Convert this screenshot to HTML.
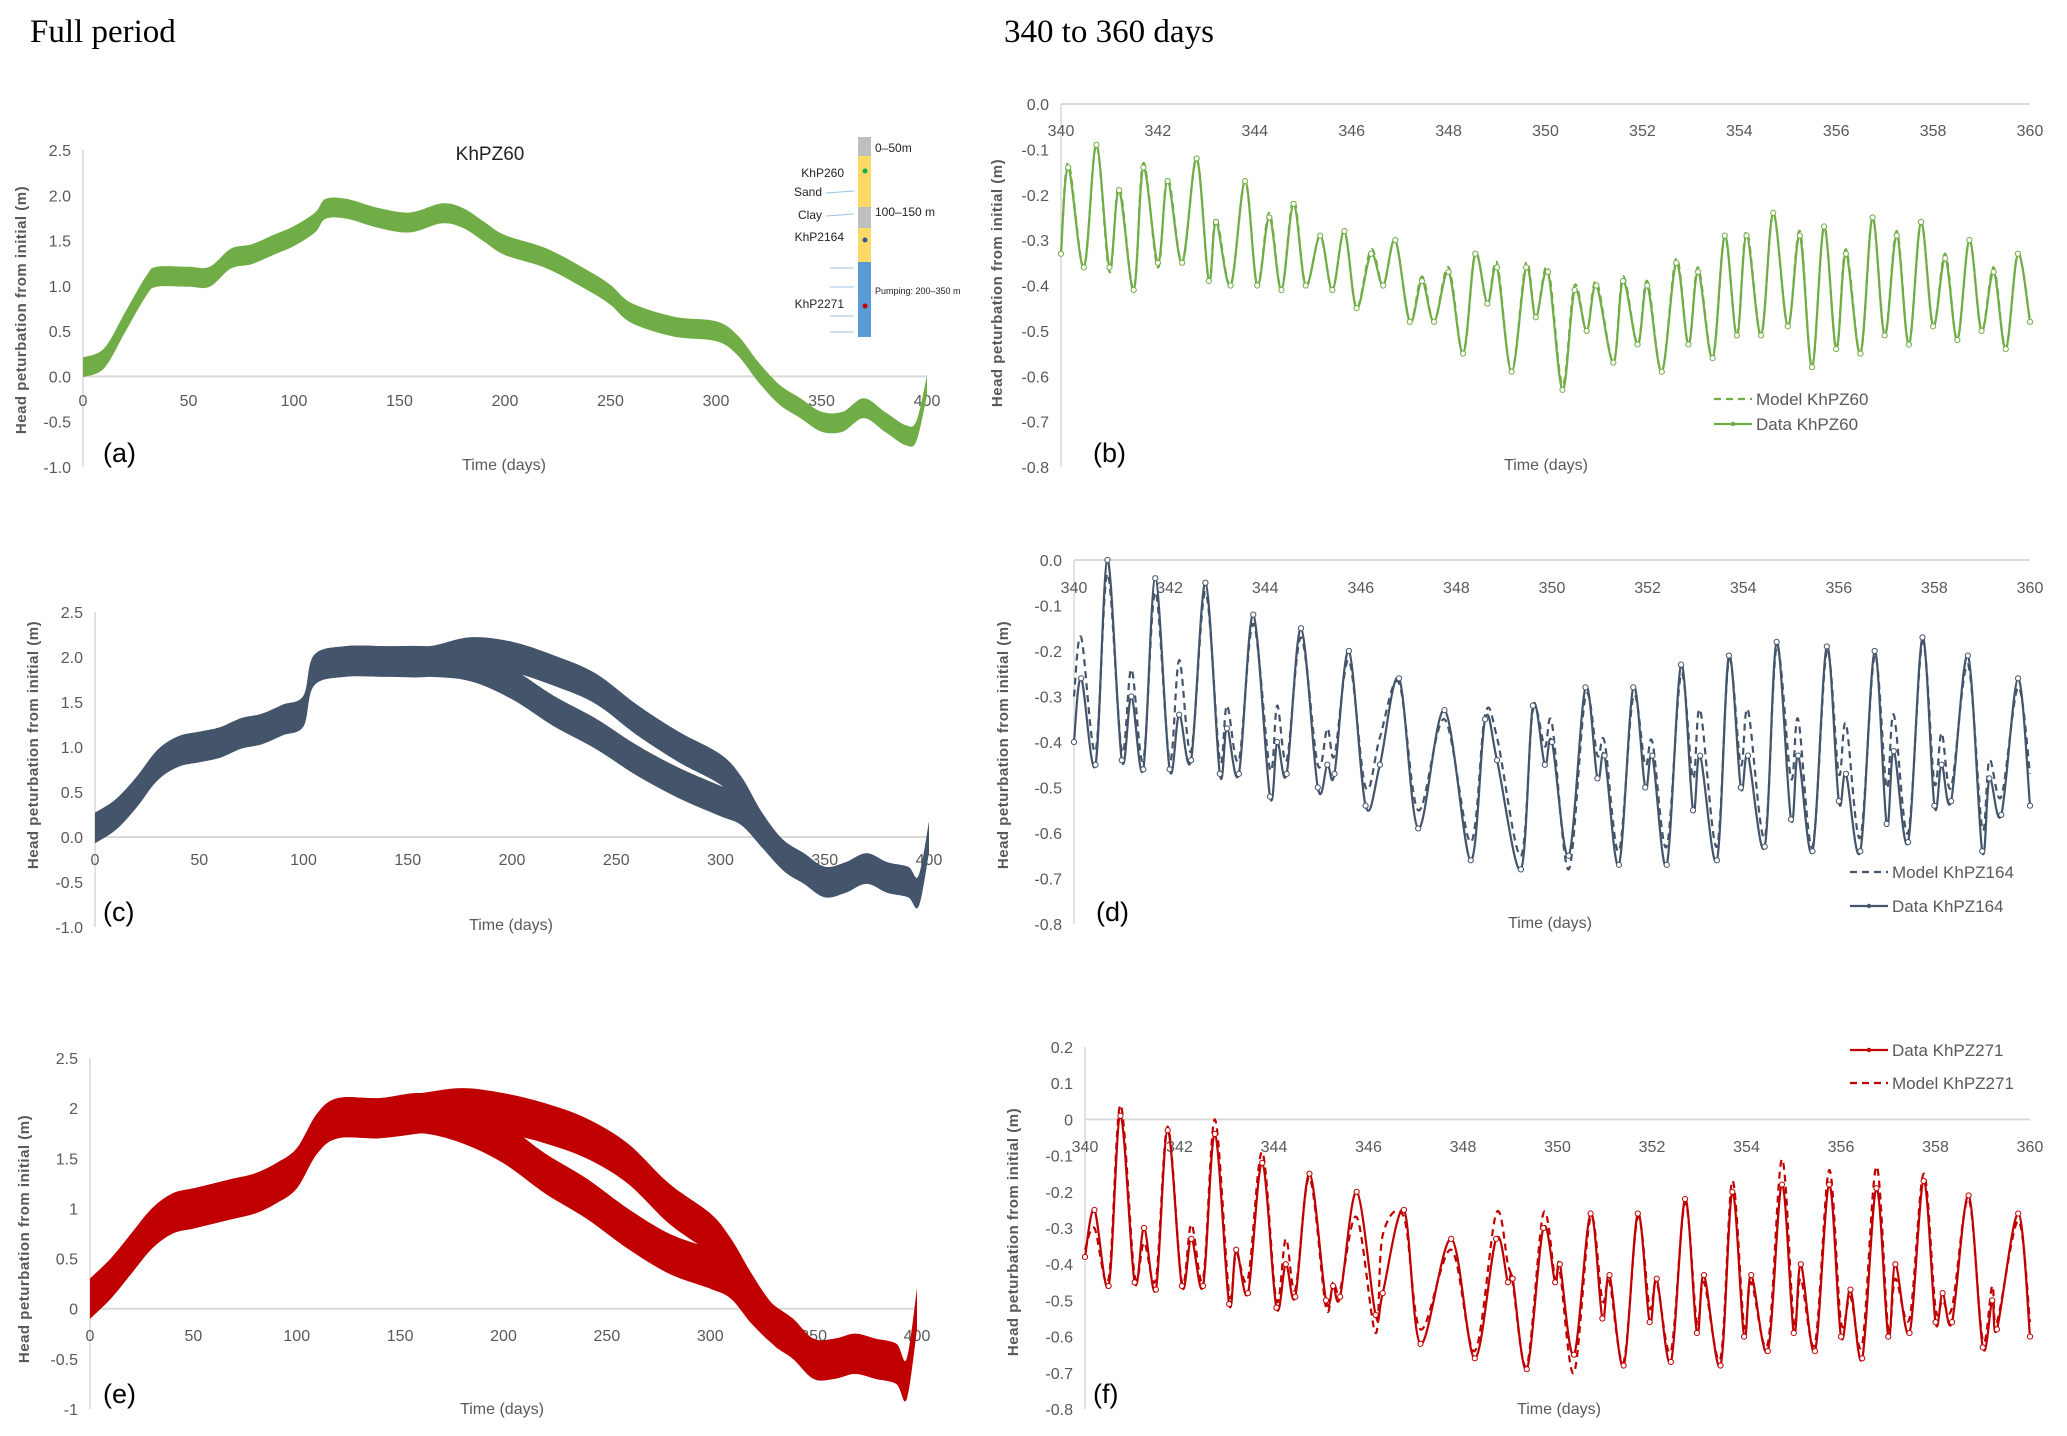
<!DOCTYPE html>
<html><head><meta charset="utf-8"><style>
html,body{margin:0;padding:0;background:#fff;}
svg{display:block;font-family:"Liberation Sans",sans-serif;}
.tk{fill:#595959;font-size:16px;}
.yt{fill:#595959;font-size:15px;font-weight:bold;letter-spacing:0.5px;}
.pl{fill:#000;font-size:27px;}
.xt{fill:#595959;font-size:16px;}
.lg{fill:#595959;font-size:17px;}
.hd{font-family:"Liberation Serif",serif;font-size:33px;fill:#000;}
</style></head><body>
<svg id="fig" width="2067" height="1436" viewBox="0 0 2067 1436">
<text class="hd" x="30" y="42">Full period</text>
<text class="hd" x="1004" y="42">340 to 360 days</text>
<g id="inset">
<rect x="858" y="137" width="13" height="19" fill="#bfbfbf"/>
<rect x="858" y="156" width="13" height="51" fill="#ffd966"/>
<rect x="858" y="207" width="13" height="21" fill="#bfbfbf"/>
<rect x="858" y="228" width="13" height="34" fill="#ffd966"/>
<rect x="858" y="262" width="13" height="75" fill="#5b9bd5"/>
<circle cx="865" cy="171" r="2.5" fill="#00b050"/>
<circle cx="865" cy="240" r="2.5" fill="#2f5597"/>
<circle cx="865" cy="306" r="2.5" fill="#c00000"/>
<g font-size="12" fill="#222">
<text x="875" y="152">0–50m</text>
<text x="844" y="177" text-anchor="end">KhP260</text>
<text x="822" y="196" text-anchor="end">Sand</text>
<text x="822" y="219" text-anchor="end">Clay</text>
<text x="844" y="241" text-anchor="end">KhP2164</text>
<text x="875" y="216">100–150 m</text>
<text x="875" y="294" font-size="9">Pumping: 200–350 m</text>
<text x="844" y="308" text-anchor="end">KhP2271</text>
</g>
<g stroke="#9dc3e6" stroke-width="1">
<line x1="826" y1="193" x2="854" y2="191"/><line x1="826" y1="216" x2="854" y2="214"/>
<line x1="830" y1="268" x2="854" y2="268"/><line x1="830" y1="287" x2="854" y2="287"/>
<line x1="830" y1="316" x2="854" y2="316"/><line x1="830" y1="332" x2="854" y2="332"/>
</g>
</g>
<text x="490" y="160" text-anchor="middle" font-size="19" fill="#222">KhPZ60</text>
</svg>
<script>
// ---- Full period data (band centre per sample day) ----
const fa_days=[0,10,20,30,35,50,60,70,80,90,100,110,115,125,140,155,170,180,190,200,220,240,250,260,280,300,310,320,330,340,350,360,370,380,390,395,400];
const fa_center=[0.1,0.2,0.6,1.0,1.1,1.1,1.1,1.3,1.35,1.45,1.55,1.7,1.85,1.85,1.75,1.7,1.8,1.75,1.6,1.45,1.3,1.05,0.9,0.7,0.55,0.5,0.35,0.05,-0.2,-0.35,-0.5,-0.5,-0.35,-0.5,-0.65,-0.6,-0.1];
const fa_spread=0.11;
const fc_days=[0,10,20,30,40,50,60,70,80,90,100,105,120,140,160,180,200,220,240,260,280,300,310,320,330,340,350,360,370,380,390,395,400];
const fc_upper=[0.1,0.25,0.5,0.8,0.95,1.0,1.05,1.15,1.2,1.3,1.4,1.85,1.95,1.95,1.95,2.05,2.0,1.85,1.65,1.3,1.0,0.75,0.5,0.1,-0.2,-0.35,-0.5,-0.45,-0.35,-0.45,-0.5,-0.6,0];
const fc_lower=[0.1,0.25,0.5,0.8,0.95,1.0,1.05,1.15,1.2,1.3,1.4,1.85,1.95,1.95,1.95,1.9,1.7,1.4,1.15,0.85,0.6,0.4,0.3,0.05,-0.2,-0.35,-0.5,-0.45,-0.35,-0.45,-0.5,-0.6,0];
const fc_spread=0.17;
const fe_days=[0,10,20,30,40,50,60,70,80,90,100,110,120,140,160,180,200,220,240,260,280,300,310,320,330,340,350,360,370,380,390,395,400];
const fe_upper=[0.1,0.3,0.55,0.8,0.95,1.0,1.05,1.1,1.15,1.25,1.4,1.75,1.9,1.9,1.95,2.0,1.95,1.85,1.7,1.45,1.05,0.75,0.5,0.15,-0.15,-0.3,-0.5,-0.5,-0.45,-0.5,-0.55,-0.7,0];
const fe_lower=[0.1,0.3,0.55,0.8,0.95,1.0,1.05,1.1,1.15,1.25,1.4,1.75,1.9,1.9,1.95,1.85,1.65,1.35,1.1,0.8,0.55,0.4,0.3,0.05,-0.15,-0.3,-0.5,-0.5,-0.45,-0.5,-0.55,-0.7,0];
const fe_spread=0.2;
// ---- 340-360 day data ----
const b_t=[340,340.15,340.47,340.73,341.0,341.2,341.5,341.7,342.0,342.2,342.5,342.8,343.05,343.2,343.5,343.8,344.05,344.3,344.55,344.8,345.05,345.35,345.6,345.85,346.1,346.4,346.65,346.9,347.2,347.45,347.7,348.0,348.3,348.55,348.8,349.0,349.3,349.6,349.8,350.05,350.35,350.6,350.85,351.05,351.4,351.6,351.9,352.1,352.4,352.7,352.95,353.15,353.45,353.7,353.95,354.15,354.45,354.7,355.0,355.25,355.5,355.75,356.0,356.2,356.5,356.75,357.0,357.25,357.5,357.75,358.0,358.25,358.5,358.75,359.0,359.25,359.5,359.75,360];
const b_data=[-0.33,-0.14,-0.36,-0.09,-0.36,-0.19,-0.41,-0.14,-0.35,-0.17,-0.35,-0.12,-0.39,-0.26,-0.40,-0.17,-0.40,-0.25,-0.41,-0.22,-0.40,-0.29,-0.41,-0.28,-0.45,-0.33,-0.40,-0.30,-0.48,-0.39,-0.48,-0.37,-0.55,-0.33,-0.44,-0.36,-0.59,-0.36,-0.47,-0.37,-0.63,-0.41,-0.50,-0.40,-0.57,-0.39,-0.53,-0.40,-0.59,-0.35,-0.53,-0.37,-0.56,-0.29,-0.51,-0.29,-0.51,-0.24,-0.49,-0.29,-0.58,-0.27,-0.54,-0.33,-0.55,-0.25,-0.51,-0.29,-0.53,-0.26,-0.49,-0.34,-0.52,-0.30,-0.50,-0.37,-0.54,-0.33,-0.48];
const b_model=[-0.33,-0.13,-0.36,-0.09,-0.37,-0.18,-0.41,-0.13,-0.36,-0.16,-0.35,-0.12,-0.39,-0.25,-0.40,-0.17,-0.40,-0.24,-0.41,-0.21,-0.40,-0.29,-0.41,-0.28,-0.45,-0.32,-0.40,-0.30,-0.48,-0.38,-0.48,-0.36,-0.55,-0.33,-0.44,-0.35,-0.59,-0.35,-0.47,-0.36,-0.62,-0.40,-0.50,-0.39,-0.57,-0.38,-0.53,-0.39,-0.59,-0.34,-0.53,-0.36,-0.56,-0.29,-0.51,-0.28,-0.51,-0.24,-0.49,-0.28,-0.58,-0.27,-0.54,-0.32,-0.55,-0.25,-0.51,-0.28,-0.53,-0.26,-0.49,-0.33,-0.52,-0.30,-0.50,-0.36,-0.54,-0.33,-0.48];
const d_t=[340,340.15,340.45,340.7,341.0,341.2,341.45,341.7,342.0,342.2,342.45,342.75,343.05,343.2,343.45,343.75,344.1,344.25,344.45,344.75,345.1,345.3,345.45,345.75,346.1,346.4,346.8,347.2,347.75,348.3,348.6,348.85,349.35,349.6,349.85,350.0,350.35,350.7,350.95,351.1,351.4,351.7,351.95,352.1,352.4,352.7,352.95,353.1,353.45,353.7,353.95,354.1,354.45,354.7,355.0,355.15,355.45,355.75,356.0,356.15,356.45,356.75,357.0,357.15,357.45,357.75,358.0,358.15,358.35,358.7,359.0,359.15,359.4,359.75,360];
const d_data=[-0.40,-0.26,-0.45,0.0,-0.44,-0.30,-0.46,-0.04,-0.46,-0.34,-0.44,-0.05,-0.47,-0.37,-0.47,-0.12,-0.52,-0.40,-0.47,-0.15,-0.50,-0.45,-0.47,-0.20,-0.54,-0.45,-0.26,-0.59,-0.33,-0.66,-0.35,-0.44,-0.68,-0.32,-0.45,-0.40,-0.65,-0.28,-0.48,-0.43,-0.67,-0.28,-0.50,-0.43,-0.67,-0.23,-0.55,-0.43,-0.66,-0.21,-0.50,-0.43,-0.63,-0.18,-0.57,-0.43,-0.64,-0.19,-0.53,-0.47,-0.64,-0.20,-0.58,-0.42,-0.62,-0.17,-0.54,-0.45,-0.53,-0.21,-0.64,-0.48,-0.56,-0.26,-0.54];
const d_model=[-0.30,-0.17,-0.42,-0.03,-0.42,-0.24,-0.44,-0.07,-0.44,-0.22,-0.42,-0.07,-0.44,-0.32,-0.44,-0.14,-0.46,-0.32,-0.44,-0.17,-0.45,-0.37,-0.43,-0.22,-0.50,-0.39,-0.27,-0.55,-0.35,-0.62,-0.34,-0.39,-0.65,-0.33,-0.41,-0.36,-0.68,-0.30,-0.43,-0.40,-0.64,-0.30,-0.45,-0.40,-0.63,-0.25,-0.48,-0.33,-0.63,-0.22,-0.45,-0.33,-0.61,-0.19,-0.48,-0.35,-0.63,-0.20,-0.47,-0.36,-0.61,-0.21,-0.50,-0.34,-0.60,-0.18,-0.49,-0.38,-0.50,-0.23,-0.59,-0.44,-0.52,-0.28,-0.47];
const f_t=[340,340.2,340.5,340.75,341.05,341.25,341.5,341.75,342.05,342.25,342.5,342.75,343.05,343.2,343.45,343.75,344.05,344.25,344.45,344.75,345.1,345.25,345.4,345.75,346.15,346.3,346.75,347.1,347.75,348.25,348.7,348.95,349.05,349.35,349.7,349.95,350.05,350.35,350.7,350.95,351.1,351.4,351.7,351.95,352.1,352.4,352.7,352.95,353.1,353.45,353.7,353.95,354.1,354.45,354.75,355.0,355.15,355.45,355.75,356.0,356.2,356.45,356.75,357.0,357.15,357.45,357.75,358.0,358.15,358.35,358.7,359.0,359.2,359.3,359.75,360];
const f_data=[-0.38,-0.25,-0.46,0.01,-0.45,-0.30,-0.47,-0.03,-0.46,-0.33,-0.46,-0.04,-0.51,-0.36,-0.48,-0.12,-0.52,-0.40,-0.49,-0.15,-0.50,-0.46,-0.49,-0.20,-0.54,-0.48,-0.25,-0.62,-0.33,-0.66,-0.33,-0.45,-0.44,-0.69,-0.30,-0.45,-0.40,-0.65,-0.26,-0.55,-0.43,-0.68,-0.26,-0.56,-0.44,-0.67,-0.22,-0.59,-0.43,-0.68,-0.20,-0.60,-0.43,-0.64,-0.18,-0.59,-0.40,-0.64,-0.18,-0.60,-0.47,-0.66,-0.19,-0.60,-0.40,-0.59,-0.17,-0.56,-0.48,-0.56,-0.21,-0.63,-0.50,-0.58,-0.26,-0.60];
const f_model=[-0.36,-0.30,-0.44,0.04,-0.43,-0.34,-0.44,-0.02,-0.45,-0.29,-0.44,0.0,-0.48,-0.37,-0.44,-0.09,-0.50,-0.33,-0.47,-0.16,-0.52,-0.45,-0.47,-0.27,-0.59,-0.32,-0.27,-0.58,-0.36,-0.64,-0.26,-0.40,-0.45,-0.68,-0.26,-0.44,-0.42,-0.70,-0.27,-0.50,-0.45,-0.67,-0.27,-0.52,-0.45,-0.64,-0.23,-0.56,-0.45,-0.66,-0.17,-0.57,-0.45,-0.62,-0.11,-0.56,-0.44,-0.62,-0.14,-0.56,-0.49,-0.62,-0.13,-0.58,-0.44,-0.55,-0.15,-0.52,-0.50,-0.52,-0.22,-0.61,-0.46,-0.56,-0.28,-0.56];
// tick labels
const yTicksFull=["2.5","2.0","1.5","1.0","0.5","0.0","-0.5","-1.0"];
const yTicksE=["2.5","2","1.5","1","0.5","0","-0.5","-1"];
const xTicksFull=["0","50","100","150","200","250","300","350","400"];
const yTicksZoom=["0.0","-0.1","-0.2","-0.3","-0.4","-0.5","-0.6","-0.7","-0.8"];
const yTicksF=["0.2","0.1","0","-0.1","-0.2","-0.3","-0.4","-0.5","-0.6","-0.7","-0.8"];
const xTicksZoom=["340","342","344","346","348","350","352","354","356","358","360"];

const NS="http://www.w3.org/2000/svg";
const svg=document.getElementById('fig');
function mk(tag,parent){const e=document.createElementNS(NS,tag);parent.appendChild(e);return e;}
function lin(d0,d1,r0,r1){return v=>r0+(v-d0)*(r1-r0)/(d1-d0);}
function smooth(pts){let d='M'+pts[0][0].toFixed(1)+','+pts[0][1].toFixed(1);
 for(let i=0;i<pts.length-1;i++){const p0=pts[Math.max(0,i-1)],p1=pts[i],p2=pts[i+1],p3=pts[Math.min(pts.length-1,i+2)];
  const c1x=p1[0]+(p2[0]-p0[0])/6,c1y=p1[1]+(p2[1]-p0[1])/6,c2x=p2[0]-(p3[0]-p1[0])/6,c2y=p2[1]-(p3[1]-p1[1])/6;
  d+=' C'+c1x.toFixed(1)+','+c1y.toFixed(1)+' '+c2x.toFixed(1)+','+c2y.toFixed(1)+' '+p2[0].toFixed(1)+','+p2[1].toFixed(1);}
 return d;}
function txt(parent,cls,x,y,s,anchor){const t=mk('text',parent);t.setAttribute('class',cls);t.setAttribute('x',x);t.setAttribute('y',y);if(anchor)t.setAttribute('text-anchor',anchor);t.textContent=s;return t;}

function axesFrame(g,c,yTicks,xTicks,yVals,xVals,zeroY,xLabY,name){
 const ax=mk('line',g);ax.setAttribute('x1',c.x0);ax.setAttribute('x2',c.x0);ax.setAttribute('y1',c.yTop);ax.setAttribute('y2',c.yBot);ax.setAttribute('stroke','#d9d9d9');ax.setAttribute('stroke-width','1.5');
 
 
 const zl=mk('line',g);zl.setAttribute('x1',c.x0);zl.setAttribute('x2',c.x1);zl.setAttribute('y1',c.Y(zeroY));zl.setAttribute('y2',c.Y(zeroY));zl.setAttribute('stroke','#d9d9d9');zl.setAttribute('stroke-width','2');
 
 
 yTicks.forEach((s,i)=>{const t=txt(g,'tk',c.x0-12,c.Y(yVals[i])+6,s,'end');
  
  });
 xTicks.forEach((s,i)=>{const t=txt(g,'tk',c.X(xVals[i]),xLabY,s,'middle');
  
  });
}
function yTitle(g,x,y,name){const t=txt(g,'yt',0,0,'Head peturbation from initial (m)','middle');t.setAttribute('transform','translate('+x+','+y+') rotate(-90)');
 
 }
function extra(g,lab,lx,ly,tx,ty,name){const a=txt(g,'pl',lx,ly,lab);
 
 
 const b=txt(g,'xt',tx,ty,'Time (days)','middle');
 
 }
function band(g,c,days,centre,spread,color,name){
 const top=days.map((d,i)=>[c.X(d),c.Y(centre[i]+spread)]);
 const bot=days.map((d,i)=>[c.X(d),c.Y(centre[i]-spread)]).reverse();
 const p=mk('path',g);p.setAttribute('d',smooth(top)+' L'+smooth(bot).slice(1)+' Z');p.setAttribute('fill',color);
 
 }
function wave(g,c,t,v,color,dash,markers,name){
 const pts=t.map((d,i)=>[c.X(d),c.Y(v[i])]);
 const p=mk('path',g);p.setAttribute('d',smooth(pts));p.setAttribute('fill','none');p.setAttribute('stroke',color);p.setAttribute('stroke-width','2.2');
 if(dash)p.setAttribute('stroke-dasharray','7,5');
 
 
 if(markers){pts.forEach(q=>{const m=mk('circle',g);m.setAttribute('cx',q[0]);m.setAttribute('cy',q[1]);m.setAttribute('r','2.6');m.setAttribute('fill','#fff');m.setAttribute('stroke',color);m.setAttribute('stroke-width','1');
  
  });}}
function legend(g,x,y,label,color,dash,name){
 const l=mk('line',g);l.setAttribute('x1',x);l.setAttribute('x2',x+38);l.setAttribute('y1',y);l.setAttribute('y2',y);l.setAttribute('stroke',color);l.setAttribute('stroke-width','2.2');
 if(dash)l.setAttribute('stroke-dasharray','7,5');
 
 
 if(!dash){const m=mk('circle',g);m.setAttribute('cx',x+19);m.setAttribute('cy',y);m.setAttribute('r','2.2');m.setAttribute('fill',color);}
 const t=txt(g,'lg',x+42,y+6,label);
 
 }

const fullX=[0,50,100,150,200,250,300,350,400];
const fullY=[2.5,2,1.5,1,0.5,0,-0.5,-1];
const zX=[340,342,344,346,348,350,352,354,356,358,360];
const zY=[0,-0.1,-0.2,-0.3,-0.4,-0.5,-0.6,-0.7,-0.8];
const fY=[0.2,0.1,0,-0.1,-0.2,-0.3,-0.4,-0.5,-0.6,-0.7,-0.8];

function panel(name){const g=mk('g',svg);return g;}
// Panel a
{const g=panel('chart-a');const c={x0:83,x1:927,yTop:150,yBot:467,X:lin(0,400,83,927),Y:lin(2.5,-1,150,467)};
 axesFrame(g,c,yTicksFull,xTicksFull,fullY,fullX,0,406,'chart-a');
 band(g,c,fa_days,fa_center,fa_spread,'#70ad47','khpz60-full-band');
 yTitle(g,26,310,'chart-a');extra(g,'(a)',103,462,504,470,'chart-a');}
// Panel c
{const g=panel('chart-c');const c={x0:95,x1:929,yTop:612,yBot:927,X:lin(0,400,95,929),Y:lin(2.5,-1,612,927)};
 axesFrame(g,c,yTicksFull,xTicksFull,fullY,fullX,0,865,'chart-c');
 band(g,c,fc_days,fc_upper,fc_spread,'#44546a','khpz164-full-band-upper');
 band(g,c,fc_days,fc_lower,fc_spread,'#44546a','khpz164-full-band-lower');
 yTitle(g,38,745,'chart-c');extra(g,'(c)',103,921,511,930,'chart-c');}
// Panel e
{const g=panel('chart-e');const c={x0:90,x1:917,yTop:1058,yBot:1409,X:lin(0,400,90,917),Y:lin(2.5,-1,1058,1409)};
 axesFrame(g,c,yTicksE,xTicksFull,fullY,fullX,0,1341,'chart-e');
 band(g,c,fe_days,fe_upper,fe_spread,'#c00000','khpz271-full-band-upper');
 band(g,c,fe_days,fe_lower,fe_spread,'#c00000','khpz271-full-band-lower');
 yTitle(g,29,1239,'chart-e');extra(g,'(e)',103,1403,502,1414,'chart-e');}
// Panel b
{const g=panel('chart-b');const c={x0:1061,x1:2030,yTop:104,yBot:467,X:lin(340,360,1061,2030),Y:lin(0,-0.8,104,467)};
 axesFrame(g,c,yTicksZoom,xTicksZoom,zY,zX,0,136,'chart-b');
 wave(g,c,b_t,b_model,'#70ad47',true,false,'model-khpz60-line');
 wave(g,c,b_t,b_data,'#70ad47',false,true,'data-khpz60-line');
 legend(g,1714,399,'Model KhPZ60','#70ad47',true,'legend-model-khpz60');
 legend(g,1714,424,'Data KhPZ60','#70ad47',false,'legend-data-khpz60');
 yTitle(g,1002,283,'chart-b');extra(g,'(b)',1093,462,1546,470,'chart-b');}
// Panel d
{const g=panel('chart-d');const c={x0:1074,x1:2030,yTop:560,yBot:924,X:lin(340,360,1074,2030),Y:lin(0,-0.8,560,924)};
 axesFrame(g,c,yTicksZoom,xTicksZoom,zY,zX,0,593,'chart-d');
 wave(g,c,d_t,d_model,'#44546a',true,false,'model-khpz164-line');
 wave(g,c,d_t,d_data,'#44546a',false,true,'data-khpz164-line');
 legend(g,1850,872,'Model KhPZ164','#44546a',true,'legend-model-khpz164');
 legend(g,1850,906,'Data KhPZ164','#44546a',false,'legend-data-khpz164');
 yTitle(g,1008,745,'chart-d');extra(g,'(d)',1096,921,1550,928,'chart-d');}
// Panel f
{const g=panel('chart-f');const c={x0:1085,x1:2030,yTop:1047,yBot:1409,X:lin(340,360,1085,2030),Y:lin(0.2,-0.8,1047,1409)};
 axesFrame(g,c,yTicksF,xTicksZoom,fY,zX,0,1152,'chart-f');
 wave(g,c,f_t,f_model,'#c00000',true,false,'model-khpz271-line');
 wave(g,c,f_t,f_data,'#c00000',false,true,'data-khpz271-line');
 legend(g,1850,1050,'Data KhPZ271','#c00000',false,'legend-data-khpz271');
 legend(g,1850,1083,'Model KhPZ271','#c00000',true,'legend-model-khpz271');
 yTitle(g,1018,1232,'chart-f');extra(g,'(f)',1093,1403,1559,1414,'chart-f');}
</script>
</body></html>
